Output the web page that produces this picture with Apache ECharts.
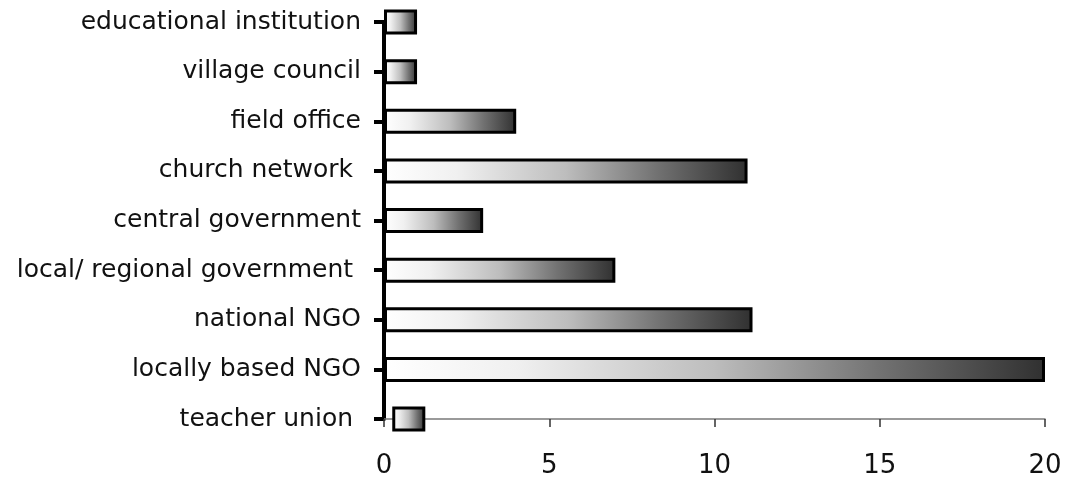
<!DOCTYPE html>
<html>
<head>
<meta charset="utf-8">
<script src="https://cdn.jsdelivr.net/npm/echarts@6/dist/echarts.min.js"></script>
<style>
  html, body { margin: 0; padding: 0; background: #ffffff; }
  #chart { width: 1066px; height: 479px; }
</style>
</head>
<body>
<div id="chart"></div>
<script>
// Organisation types, listed bottom to top as drawn on the category axis
const categories = [
  'teacher union ',
  'locally based NGO',
  'national NGO',
  'local/ regional government ',
  'central government',
  'church network ',
  'field office',
  'village council',
  'educational institution'
];

// Number of mentions per organisation type
const counts = [1, 20, 11.15, 7, 3, 11, 4, 1, 1];

// Small leading gap before the teacher union bar
const leadGap = [0.25, 0, 0, 0, 0, 0, 0, 0, 0];

// Value axis ticks
const xMin = 0;
const xMax = 20;
const xStep = 5;

const barFill = {
  type: 'linear', x: 0, y: 0, x2: 1, y2: 0,
  colorStops: [
    { offset: 0, color: '#ffffff' },
    { offset: 0.2, color: '#f0f0f0' },
    { offset: 0.5, color: '#bdbdbd' },
    { offset: 0.75, color: '#727272' },
    { offset: 1, color: '#303030' }
  ]
};

const chart = echarts.init(document.getElementById('chart'), null, { renderer: 'canvas' });

chart.setOption({
  backgroundColor: '#ffffff',
  animation: false,
  grid: { left: 384, right: 21, top: 22, bottom: 59, containLabel: false },
  xAxis: {
    type: 'value',
    min: xMin,
    max: xMax,
    interval: xStep,
    splitLine: { show: false },
    axisLine: { show: true, lineStyle: { color: '#7a7a7a', width: 1.5 } },
    axisTick: { show: true, inside: false, length: 8, lineStyle: { color: '#333333', width: 1.5 } },
    axisLabel: {
      margin: 34,
      color: '#111111',
      fontFamily: 'DejaVu Sans',
      fontSize: 26
    }
  },
  yAxis: {
    type: 'category',
    data: categories,
    boundaryGap: false,
    axisLine: { show: true, lineStyle: { color: '#000000', width: 4 } },
    axisTick: { show: true, length: 10, lineStyle: { color: '#000000', width: 4 } },
    axisLabel: {
      margin: 23,
      color: '#111111',
      fontFamily: 'DejaVu Sans',
      fontSize: 25
    },
    splitLine: { show: false }
  },
  series: [
    {
      name: 'gap',
      type: 'bar',
      stack: 'total',
      data: leadGap,
      barWidth: 25,
      clip: false,
      silent: true,
      itemStyle: { color: 'rgba(0,0,0,0)', borderWidth: 0 }
    },
    {
      name: 'mentions',
      type: 'bar',
      stack: 'total',
      data: counts,
      barWidth: 25,
      clip: false,
      itemStyle: {
        color: barFill,
        borderColor: '#000000',
        borderWidth: 3
      }
    }
  ]
});
</script>
</body>
</html>
